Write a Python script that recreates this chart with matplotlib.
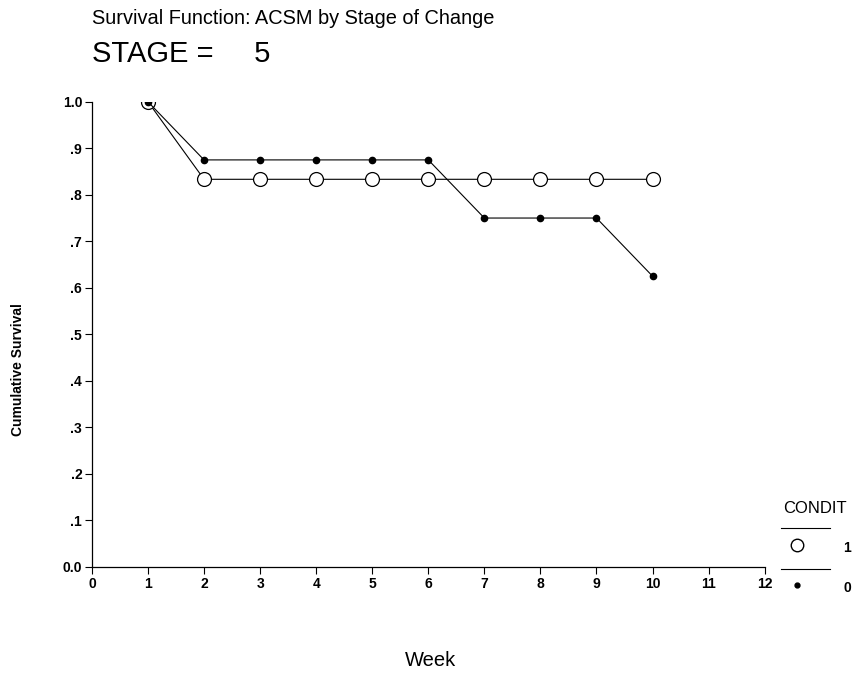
import matplotlib
matplotlib.use("Agg")
import matplotlib.pyplot as plt

plt.rcParams['font.family'] = ['Liberation Sans', 'DejaVu Sans']

weeks = [1, 2, 3, 4, 5, 6, 7, 8, 9, 10]
surv_cond1 = [1.0, 0.8333, 0.8333, 0.8333, 0.8333, 0.8333, 0.8333, 0.8333, 0.8333, 0.8333]
surv_cond0 = [1.0, 0.875, 0.875, 0.875, 0.875, 0.875, 0.75, 0.75, 0.75, 0.625]
x_ticks = list(range(0, 13))
y_ticks = [0.0, 0.1, 0.2, 0.3, 0.4, 0.5, 0.6, 0.7, 0.8, 0.9, 1.0]
y_tick_labels = ['0.0', '.1', '.2', '.3', '.4', '.5', '.6', '.7', '.8', '.9', '1.0']

fig = plt.figure(figsize=(8.67, 6.74), dpi=100)
ax = fig.add_axes([0.106, 0.159, 0.776, 0.690])

ax.plot(weeks, surv_cond0, color='black', lw=0.8, marker='o', markersize=4.5,
        markerfacecolor='black', markeredgecolor='black', zorder=3)
ax.plot(weeks, surv_cond1, color='black', lw=0.8, marker='o', markersize=10,
        markerfacecolor='white', markeredgecolor='black', markeredgewidth=0.9, zorder=2)

ax.set_xlim(0, 12)
ax.set_ylim(0, 1.0)
ax.set_xticks(x_ticks)
ax.set_xticklabels([str(t) for t in x_ticks], fontsize=10, fontweight='bold')
ax.set_yticks(y_ticks)
ax.set_yticklabels(y_tick_labels, fontsize=10, fontweight='bold')
ax.tick_params(direction='out', length=5, width=0.8, pad=2)
ax.spines['top'].set_visible(False)
ax.spines['right'].set_visible(False)
for s in ('left', 'bottom'):
    ax.spines[s].set_linewidth(0.9)

fig.text(0.497, 0.020, 'Week', fontsize=14.5, ha='center', va='center')
fig.text(0.021, 0.452, 'Cumulative Survival', fontsize=10, fontweight='bold',
         rotation=90, ha='center', va='center')

fig.text(0.106, 0.972, 'Survival Function: ACSM by Stage of Change', fontsize=14.4,
         ha='left', va='center')
fig.text(0.106, 0.920, 'STAGE =     5', fontsize=21, ha='left', va='center')

# legend drawn by hand in figure coordinates
fig.text(0.903, 0.246, 'CONDIT', fontsize=12, ha='left', va='center')
fig.add_artist(plt.Line2D([0.901, 0.957], [0.216, 0.216], color='black', lw=0.8))
fig.add_artist(plt.Line2D([0.919], [0.191], marker='o', markersize=9,
                          markerfacecolor='white', markeredgecolor='black', lw=0))
fig.text(0.977, 0.187, '1', fontsize=10, fontweight='bold', ha='center', va='center')
fig.add_artist(plt.Line2D([0.901, 0.957], [0.156, 0.156], color='black', lw=0.8))
fig.add_artist(plt.Line2D([0.919], [0.132], marker='o', markersize=3.5,
                          markerfacecolor='black', markeredgecolor='black', lw=0))
fig.text(0.977, 0.128, '0', fontsize=10, fontweight='bold', ha='center', va='center')

fig.savefig('out.png', dpi=100)
